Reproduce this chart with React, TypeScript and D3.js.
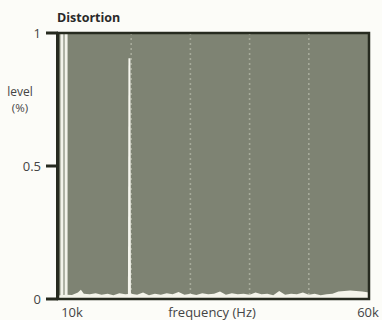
import React from "react";
import * as d3 from "d3";

const title = "Distortion";
const yTicks = [0, 0.5, 1];
const yTickLabels = ["0", "0.5", "1"];
const xTickValues = [10000, 60000];
const xTickLabels = ["10k", "60k"];
const gridFreqs = [20000, 30000, 40000, 50000];
// off-scale fundamental (drawn as two white lines)
const fundamentalFreqs = [8300, 9000];
const harmonicFreq = [19700];
const harmonicLevel = [0.905];
// noise floor, frequency in kHz, level in %
const noiseFreqK = [7.6, 8, 9, 10, 11, 11.5, 12, 13, 14, 15, 16, 17, 18, 19, 20, 21, 22, 23, 24, 25, 26, 27, 28, 29, 30, 31, 32, 33, 34, 35, 36, 37, 38, 39, 40, 41, 42, 43, 44, 45, 46, 47, 48, 49, 50, 51, 52, 53, 54, 55, 56, 57, 58, 59, 60.2];
const noiseLevel = [0.012, 0.014, 0.016, 0.015, 0.024, 0.035, 0.02, 0.018, 0.022, 0.016, 0.02, 0.014, 0.022, 0.018, 0.02, 0.016, 0.024, 0.014, 0.02, 0.016, 0.022, 0.018, 0.026, 0.016, 0.02, 0.015, 0.022, 0.018, 0.02, 0.028, 0.016, 0.022, 0.018, 0.02, 0.016, 0.024, 0.018, 0.02, 0.014, 0.03, 0.016, 0.02, 0.018, 0.024, 0.016, 0.02, 0.014, 0.018, 0.02, 0.028, 0.03, 0.032, 0.03, 0.028, 0.024];

const W = 382, H = 320;
const box = { l: 58, r: 369, t: 33, b: 299 };

export default function App() {
  const x = d3.scaleLinear().domain([10000, 60000]).range([72, 368]);
  const y = d3.scaleLinear().domain([0, 1]).range([box.b, box.t]);
  const noise = noiseFreqK.map((f, i) => [f * 1000, noiseLevel[i]] as [number, number]);
  const area = d3.area<[number, number]>()
    .x(d => Math.max(box.l, Math.min(box.r, x(d[0]))))
    .y0(box.b)
    .y1(d => y(d[1]));
  const font = "'Open Sans', 'Lato', sans-serif";
  const tc = "#444444";
  return (
    <svg width={W} height={H} style={{ position: "fixed", left: 0, top: 0, background: "#fcfcf8" }} fontFamily={font}>
      <rect x={box.l} y={box.t} width={box.r - box.l} height={box.b - box.t} fill="#7e8373" />
      {gridFreqs.map(f => (
        <line key={f} x1={x(f)} x2={x(f)} y1={box.t} y2={box.b} stroke="#b1b4a4" strokeWidth={1.6} strokeDasharray="2 3" opacity={0.8} />
      ))}
      <path d={area(noise) || ""} fill="#f4f4ea" />
      {fundamentalFreqs.map(f => (
        <line key={f} x1={x(f)} x2={x(f)} y1={box.t} y2={box.b} stroke="#f2f2ea" strokeWidth={3} />
      ))}
      {harmonicFreq.map((f, i) => (
        <path key={f} d={`M${x(f) - 1.5},${box.b} L${x(f) - 1},${y(harmonicLevel[i])} L${x(f) + 1},${y(harmonicLevel[i])} L${x(f) + 1.5},${box.b}Z`} fill="#f6f6ee" />
      ))}
      {/* frame */}
      <rect x={box.l} y={box.t} width={box.r - box.l} height={box.b - box.t} fill="none" stroke="#262a1f" strokeWidth={2.5} />
      <line x1={box.l - 1} x2={box.l - 1} y1={box.t} y2={box.b} stroke="#262a1f" strokeWidth={2} />
      {yTicks.map(v => (
        <line key={v} x1={46} x2={box.l} y1={y(v)} y2={y(v)} stroke="#262a1f" strokeWidth={3} />
      ))}
      {yTicks.map((v, i) => (
        <text key={v} x={41} y={y(v)} dy="0.35em" textAnchor="end" fontSize={13} fill={tc}>{yTickLabels[i]}</text>
      ))}
      <text x={20} y={96} textAnchor="middle" fontSize={12} fill={tc}>level</text>
      <text x={20} y={112} textAnchor="middle" fontSize={11.5} fill={tc}>(%)</text>
      {xTickValues.map((v, i) => (
        <text key={v} x={x(v)} y={317} textAnchor="middle" fontSize={13} fill={tc}>{xTickLabels[i]}</text>
      ))}
      <text x={212} y={317} textAnchor="middle" fontSize={13} fill={tc}>frequency (Hz)</text>
      <text x={57} y={22} fontSize={12.5} fontWeight="bold" fill="#2a2a2a">{title}</text>
    </svg>
  );
}
